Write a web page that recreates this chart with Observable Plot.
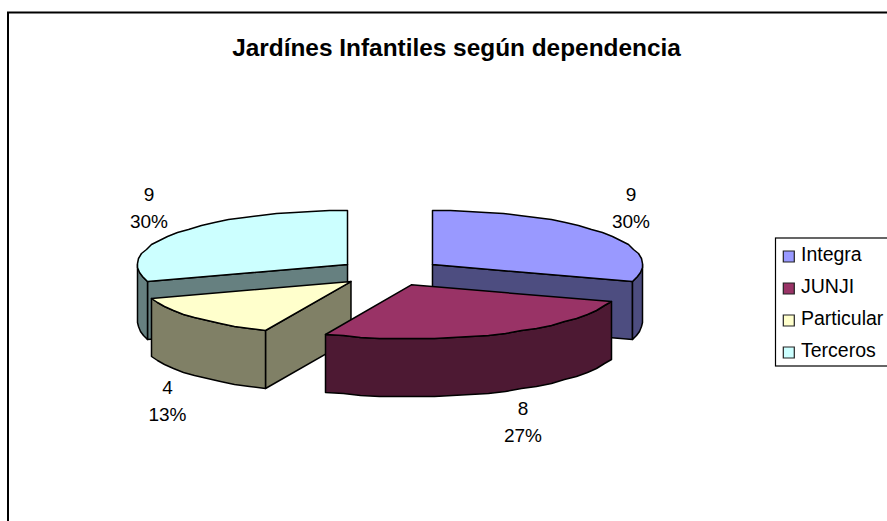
<!DOCTYPE html>
<html><head><meta charset="utf-8">
<script src="https://cdn.jsdelivr.net/npm/d3@7"></script>
<script src="https://cdn.jsdelivr.net/npm/@observablehq/plot@0.6"></script>
<style>html,body{margin:0;padding:0;background:#fff}svg{display:block}</style>
</head><body><div id="chart"></div>
<script>
const titleText = "Jardínes Infantiles según dependencia";
const categories = ["Integra", "JUNJI", "Particular", "Terceros"];
const values = [9, 8, 4, 9];
const percentLabels = ["30%", "27%", "13%", "30%"];
const topColors = ["#9999FF", "#993366", "#FFFFCC", "#CCFFFF"];
const sideColors = ["#4D4D80", "#4D1933", "#808066", "#668080"];
const labelPositions = [[630.5, 205.5], [522.5, 419], [167, 398], [148.5, 205.5]];

const W = 887, H = 521, FONT = "Liberation Sans, Arial, sans-serif";
const cx = 389.5, cy = 272, rx = 210, ry = 54, depth = 58, explode = 52.5;
const arcs = d3.pie().sort(null).value(d => d)(values);
const pt = (a, o) => ({x: Math.round(o.x + rx * Math.sin(a)), y: Math.round(o.y - ry * Math.cos(a))});
const arcPts = (a0, a1, o) => {
  const n = Math.max(1, Math.round((a1 - a0) / (Math.PI / 36)));
  return d3.range(n + 1).map(i => pt(a0 + (a1 - a0) * i / n, o));
};
const slices = arcs.map((d, i) => {
  const mid = (d.startAngle + d.endAngle) / 2;
  const o = {x: cx + explode * Math.sin(mid), y: cy - explode * (ry / rx) * Math.cos(mid)};
  return {i, a0: d.startAngle, a1: d.endAngle, o};
});
const close = p => [...p, p[0]];
const down = p => ({x: p.x, y: p.y + depth});
const faces = [];
const addSlice = ({a0, a1, o, i}) => {
  // straight cut faces that turn toward the viewer
  if (Math.sin(a0) < -1e-6 || Math.sin(a1) > 1e-6) {
    const e = pt(Math.sin(a0) < -1e-6 ? a0 : a1, o);
    faces.push({pts: close([o, e, down(e), down(o)]), fill: sideColors[i]});
  }
  // outer rim on the front half of the ellipse
  const r0 = Math.max(a0, Math.PI / 2), r1 = Math.min(a1, Math.PI * 1.5);
  if (r1 > r0) {
    const rim = arcPts(r0, r1, o);
    faces.push({pts: close([...rim, ...rim.slice().reverse().map(down)]), fill: sideColors[i]});
  }
  faces.push({pts: close([o, ...arcPts(a0, a1, o)]), fill: topColors[i]});
};
[3, 0, 2, 1].forEach(i => addSlice(slices[i]));

const dataLabels = categories.map((c, i) => ({
  text: `${values[i]}\n${percentLabels[i]}`, x: labelPositions[i][0], y: labelPositions[i][1]
}));
const legendRows = categories.map((name, i) => ({name, yText: 254 + i * 32, ySwatch: 256 + i * 32}));

const chart = Plot.plot({
  width: W, height: H, margin: 0,
  x: {domain: [0, W], range: [0, W], axis: null},
  y: {domain: [0, H], range: [0, H], axis: null},
  color: {domain: categories, range: topColors},
  style: {background: "#fff", fontFamily: FONT},
  marks: [
    Plot.rect([{}], {x1: 8, x2: 895, y1: 12.5, y2: 530, fill: "#fff", stroke: "#000", strokeWidth: 2}),
    Plot.text([titleText], {x: 456, y: 47.5, text: d => d, fontSize: 24.4, fontWeight: "bold", fill: "#000", textAnchor: "middle"}),
    ...faces.map(f => Plot.line(f.pts, {x: "x", y: "y", fill: f.fill, stroke: "#000", strokeWidth: 1.5, strokeLinejoin: "round", curve: "linear"})),
    Plot.text(dataLabels, {x: "x", y: "y", text: "text", fontSize: 19, lineHeight: 1.42, fill: "#000", textAnchor: "middle"}),
    Plot.rect([{}], {x1: 775.5, x2: 895, y1: 238, y2: 366, fill: "#fff", stroke: "#000", strokeWidth: 1.2}),
    Plot.dot(legendRows, {x: 788.3, y: "ySwatch", fill: "name", symbol: "square", r: 6.2, stroke: "#222", strokeWidth: 1.2}),
    Plot.text(legendRows, {x: 800.5, y: "yText", text: "name", fontSize: 19.5, fill: "#000", textAnchor: "start"})
  ]
});
document.getElementById("chart").append(chart);
</script></body></html>
